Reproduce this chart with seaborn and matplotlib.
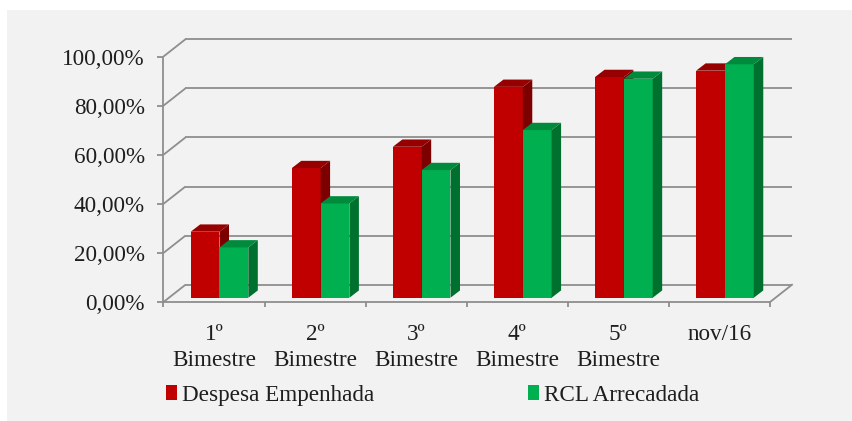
import numpy as np
import pandas as pd
import matplotlib
matplotlib.use("Agg")
import matplotlib.pyplot as plt
from matplotlib.patches import Polygon, Rectangle, Patch
import seaborn as sns

# ---------------- data ----------------
categories = ["1º\nBimestre", "2º\nBimestre", "3º\nBimestre", "4º\nBimestre", "5º\nBimestre", "nov/16"]
series = ["Despesa Empenhada", "RCL Arrecadada"]
despesa = [26.9, 52.8, 61.5, 85.9, 89.9, 92.5]
rcl = [20.5, 38.4, 52.0, 68.3, 89.2, 95.1]
y_ticks = [0, 20, 40, 60, 80, 100]
y_labels = ["0,00%", "20,00%", "40,00%", "60,00%", "80,00%", "100,00%"]

front_colors = ["#c00000", "#00b050"]
top_colors = ["#960000", "#008a3c"]
side_colors = ["#7c0000", "#00702e"]
grid_color = "#8e8e8e"
text_color = "#1e1e1e"
bg_color = "#f2f2f2"

plt.rcParams["font.family"] = ["Liberation Serif", "DejaVu Serif"]
FS = 16.7

W, H = 852, 421
fig = plt.figure(figsize=(W / 100, H / 100), dpi=100, facecolor="white")
fig.patches.append(Rectangle((7 / W, 0), 1 - 7 / W, 1 - 10 / H, transform=fig.transFigure,
                             facecolor=bg_color, edgecolor="none", zorder=-10))

# bar plane (pixel coords, from top)
L, R, T, B = 168.95, 775.5, 52.25, 297.75
# front plane offset (px), back plane offset (px, + = up)
FX, FY = -5.5, -4.3
BX, BY = 16.5, 13.0
DX, DY = 9.5, 7.3  # bar depth

ax_front = fig.add_axes([(L + FX) / W, 1 - (B - FY) / H, (R - L) / W, (B - T) / H])
ax = fig.add_axes([L / W, 1 - B / H, (R - L) / W, (B - T) / H])
ax_front.set_zorder(0)
ax.set_zorder(1)
for a in (ax, ax_front):
    a.set_facecolor("none")
    a.set_xlim(-0.5, len(categories) - 0.5)
    a.set_ylim(0, 100)

df = pd.DataFrame({
    "cat": categories * 2,
    "val": despesa + rcl,
    "serie": [series[0]] * len(categories) + [series[1]] * len(categories),
})
sns.barplot(data=df, x="cat", y="val", hue="serie", order=categories, hue_order=series,
            palette=front_colors, width=0.57, gap=0, saturation=1, dodge=True,
            legend=False, ax=ax, errorbar=None, linewidth=0)
ax.set_xlim(-0.5, len(categories) - 0.5)
ax.set_ylim(0, 100)
ax.axis("off")

ppx = (R - L) / len(categories)
ppy = (B - T) / 100.0
ddx, ddy = DX / ppx, DY / ppy
fdx, fdy = FX / ppx, FY / ppy
bdx, bdy = BX / ppx, BY / ppy

# 3D faces
for k, cont in enumerate(ax.containers):
    for p in cont.patches:
        p.set_zorder(2 + k)
        p.set_edgecolor("none")
        x0 = p.get_x()
        x1 = x0 + p.get_width()
        h = p.get_height()
        side = Polygon([(x1, 0), (x1 + ddx, ddy), (x1 + ddx, h + ddy), (x1, h)], closed=True,
                       facecolor=side_colors[k], edgecolor="none", zorder=2 + k + 0.1, clip_on=False)
        top = Polygon([(x0, h), (x0 + ddx, h + ddy), (x1 + ddx, h + ddy), (x1, h)], closed=True,
                      facecolor=top_colors[k], edgecolor="none", zorder=2 + k + 0.2, clip_on=False)
        ax.add_patch(side)
        ax.add_patch(top)

# walls / floor
x_lo, x_hi = -0.5, len(categories) - 0.5
lw = 1.3
for v in y_ticks:
    ax.plot([x_lo + bdx, x_hi + bdx], [v + bdy, v + bdy], color=grid_color, lw=lw,
            zorder=0.5, clip_on=False, solid_capstyle="butt")
    ax.plot([x_lo + fdx, x_lo + bdx], [v + fdy, v + bdy], color=grid_color, lw=lw,
            zorder=0.5, clip_on=False, solid_capstyle="butt")
ax.plot([x_hi + fdx, x_hi + bdx], [fdy, bdy], color=grid_color, lw=lw, zorder=0.5, clip_on=False)

# front axes: spines, ticks, labels
for s in ("top", "right"):
    ax_front.spines[s].set_visible(False)
for s in ("left", "bottom"):
    ax_front.spines[s].set_color(grid_color)
    ax_front.spines[s].set_linewidth(lw)
ax_front.set_yticks(y_ticks, labels=y_labels)
ax_front.tick_params(axis="y", length=4.3, width=lw, color=grid_color, pad=9,
                     labelsize=FS, labelcolor=text_color)
bounds = np.arange(len(categories) + 1) - 0.5
ax_front.set_xticks(bounds, labels=[""] * len(bounds))
ax_front.set_xticks(np.arange(len(categories)), labels=categories, minor=True)
ax_front.tick_params(axis="x", which="major", length=3.8, width=lw, color=grid_color)
ax_front.tick_params(axis="x", which="minor", length=0, pad=15.5, labelsize=FS, labelcolor=text_color)
for t in ax_front.get_xticklabels(minor=True):
    t.set_verticalalignment("top")
    t.set_linespacing(1.32)

fig.legend(handles=[Patch(facecolor=c, edgecolor="none") for c in front_colors], labels=series,
           loc="center left", bbox_to_anchor=(166 / W, 1 - 395.5 / H), ncol=2, frameon=False,
           borderpad=0, borderaxespad=0, handlelength=0.48, handleheight=0.6,
           handletextpad=0.22, columnspacing=6.6, fontsize=FS, labelcolor=text_color)

fig.savefig("out.png", dpi=100, facecolor="white")
